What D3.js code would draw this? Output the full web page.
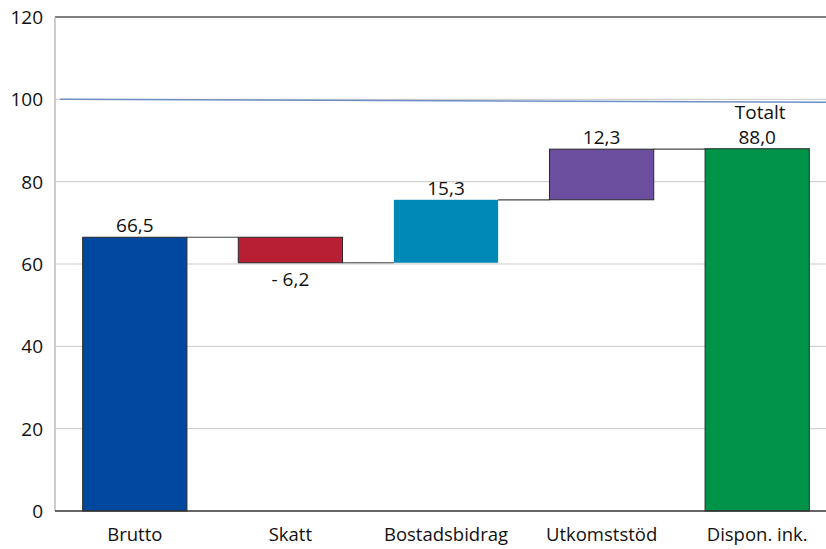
<!DOCTYPE html>
<html>
<head>
<meta charset="utf-8">
<script src="https://cdn.jsdelivr.net/npm/d3@7"></script>
<style>
  body { margin: 0; background: #fff; }
  svg { display: block; font-family: "Open Sans", "Noto Sans", sans-serif; }
</style>
</head>
<body>
<svg width="826" height="549"></svg>
<script>
// data
const categories = ['Brutto', 'Skatt', 'Bostadsbidrag', 'Utkomststöd', 'Dispon. ink.'];
const changes = [66.5, -6.2, 15.3, 12.3, 88.0];
const isTotal = [false, false, false, false, true];
const labels = ['66,5', '- 6,2', '15,3', '12,3', '88,0'];
const colors = ['#0047a0', '#b81f35', '#0089b6', '#6b4f9e', '#00934a'];
const yTicks = [0, 20, 40, 60, 80, 100, 120];
const refLine = [100, 99.3]; // reference line, start and end value

const svg = d3.select('svg');

const y = d3.scaleLinear()
  .domain([0, 120])
  .range([511, 17]);

const x = d3.scaleBand()
  .domain(categories)
  .range([57, 835])
  .paddingInner(0.33)
  .paddingOuter(0.165);

// build waterfall steps
let run = 0;
const steps = categories.map((c, i) => {
  let y0, y1;
  if (isTotal[i]) { y0 = 0; y1 = changes[i]; run = changes[i]; }
  else { y0 = run; y1 = run + changes[i]; run = y1; }
  return { name: c, y0, y1, label: labels[i], color: colors[i], neg: changes[i] < 0 };
});

// gridlines
svg.selectAll('line.grid')
  .data(yTicks.filter(t => t > 0 && t < 120))
  .enter()
  .append('line')
    .attr('x1', 55).attr('x2', 826)
    .attr('y1', d => y(d)).attr('y2', d => y(d))
    .attr('stroke', '#c8c8c8')
    .attr('stroke-width', 1);

// frame
svg.append('line')
  .attr('x1', 55).attr('x2', 826).attr('y1', y(120)).attr('y2', y(120))
  .attr('stroke', '#555').attr('stroke-width', 1.5);
svg.append('line')
  .attr('x1', 55).attr('x2', 55).attr('y1', y(120)).attr('y2', y(0))
  .attr('stroke', '#bdbdbd').attr('stroke-width', 1.5);

// reference line
const xr = d3.scaleLinear().domain([0, 1]).range([60, 826]);
svg.append('line')
  .attr('x1', xr(0)).attr('x2', xr(1))
  .attr('y1', y(refLine[0])).attr('y2', y(refLine[1]))
  .attr('stroke', '#6d8fc6')
  .attr('stroke-width', 1.5);

// connectors
steps.slice(0, -1).forEach((s, i) => {
  svg.append('line')
    .attr('x1', x(s.name) + x.bandwidth())
    .attr('x2', x(steps[i + 1].name))
    .attr('y1', y(s.y1)).attr('y2', y(s.y1))
    .attr('stroke', '#444')
    .attr('stroke-width', 1.2);
});

// bars
svg.selectAll('rect.bar')
  .data(steps)
  .enter()
  .append('rect')
    .attr('x', d => x(d.name))
    .attr('width', x.bandwidth())
    .attr('y', d => y(Math.max(d.y0, d.y1)))
    .attr('height', d => Math.abs(y(d.y0) - y(d.y1)))
    .attr('fill', d => d.color)
    .attr('stroke', (d, i) => i === 2 ? 'none' : '#2a2a2a')
    .attr('stroke-width', 1);

// value labels
svg.selectAll('text.val')
  .data(steps)
  .enter()
  .append('text')
    .attr('x', d => x(d.name) + x.bandwidth() / 2)
    .attr('y', d => d.neg ? y(Math.min(d.y0, d.y1)) + 23 : y(Math.max(d.y0, d.y1)) - 5)
    .attr('text-anchor', 'middle')
    .attr('font-size', 19)
    .attr('fill', '#111')
    .text(d => d.label);

svg.append('text')
  .attr('x', x(categories[4]) + x.bandwidth() / 2 + 3)
  .attr('y', y(88) - 30)
  .attr('text-anchor', 'middle')
  .attr('font-size', 19)
  .attr('fill', '#111')
  .text('Totalt');

// y axis labels
svg.selectAll('text.ytick')
  .data(yTicks)
  .enter()
  .append('text')
    .attr('x', 43)
    .attr('y', d => y(d) + 7)
    .attr('text-anchor', 'end')
    .attr('font-size', 19)
    .attr('fill', '#111')
    .text(d => d);

// x axis
svg.append('line')
  .attr('x1', 55).attr('x2', 826).attr('y1', y(0)).attr('y2', y(0))
  .attr('stroke', '#333').attr('stroke-width', 1.5);

svg.selectAll('text.xcat')
  .data(categories)
  .enter()
  .append('text')
    .attr('x', d => x(d) + x.bandwidth() / 2)
    .attr('y', 541)
    .attr('text-anchor', 'middle')
    .attr('font-size', 18.5)
    .attr('fill', '#111')
    .text(d => d);
</script>
</body>
</html>
